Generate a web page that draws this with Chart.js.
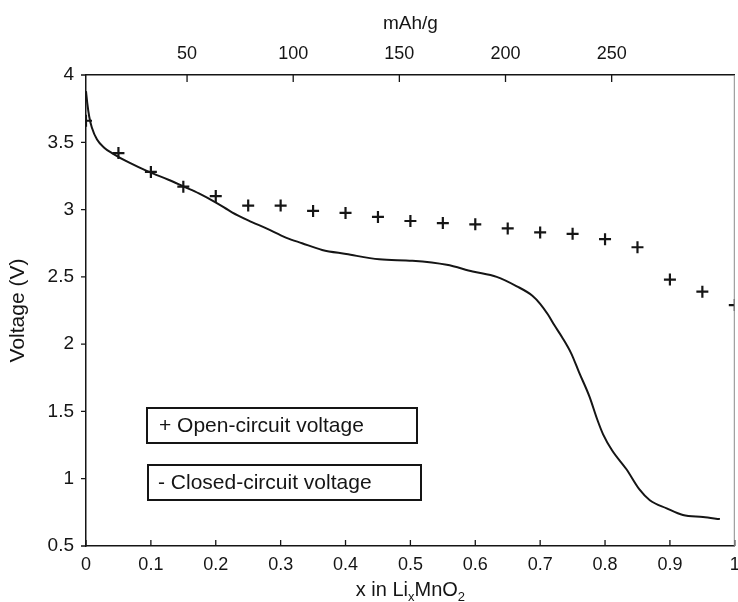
<!DOCTYPE html>
<html>
<head>
<title>LixMnO2 discharge</title>
<script src="https://cdn.jsdelivr.net/npm/chart.js"></script>
<style>
  html, body { margin: 0; padding: 0; background: #fff; overflow: hidden; }
  /* a little wider than the window so the plot frame reaches x = 735 */
  #wrap { width: 743px; height: 602px; }
</style>
</head>
<body>
<div id="wrap"><canvas id="discharge"></canvas></div>
<script>
// closed-circuit discharge curve: x in LixMnO2 vs volts
const ccvX = [0.000, 0.002, 0.005, 0.009, 0.017, 0.028, 0.040, 0.066, 0.097, 0.128,
              0.151, 0.174, 0.201, 0.225, 0.250, 0.278, 0.309, 0.333, 0.364, 0.401,
              0.452, 0.503, 0.556, 0.596, 0.633, 0.664, 0.688, 0.700, 0.712, 0.722,
              0.734, 0.748, 0.760, 0.776, 0.788, 0.797, 0.811, 0.833, 0.853, 0.869,
              0.895, 0.920, 0.951, 0.977];
const ccvV = [3.88, 3.79, 3.69, 3.61, 3.52, 3.46, 3.42, 3.35, 3.28, 3.22,
              3.17, 3.12, 3.05, 2.98, 2.92, 2.86, 2.79, 2.75, 2.70, 2.67,
              2.63, 2.62, 2.59, 2.54, 2.50, 2.43, 2.36, 2.30, 2.22, 2.14,
              2.05, 1.93, 1.79, 1.61, 1.44, 1.33, 1.21, 1.07, 0.92, 0.84,
              0.78, 0.73, 0.715, 0.70];

// open-circuit voltage points
const ocvX = [0, 0.05, 0.1, 0.15, 0.2, 0.25, 0.3, 0.35, 0.4, 0.45, 0.5,
              0.55, 0.6, 0.65, 0.7, 0.75, 0.8, 0.85, 0.9, 0.95, 1.0];
const ocvV = [3.66, 3.42, 3.28, 3.17, 3.10, 3.03, 3.03, 2.99, 2.975, 2.945, 2.915,
              2.90, 2.89, 2.86, 2.83, 2.82, 2.78, 2.72, 2.48, 2.39, 2.29];

const xTicks = [0, 0.1, 0.2, 0.3, 0.4, 0.5, 0.6, 0.7, 0.8, 0.9, 1];
const yTicks = [0.5, 1, 1.5, 2, 2.5, 3, 3.5, 4];
const capTicks = [50, 100, 150, 200, 250];
const capRange = [2.4, 308];   // mAh/g at x = 0 and x = 1
const legendLabels = ['+ Open-circuit voltage', '- Closed-circuit voltage'];

const ink = '#151515';
const fontName = '"Liberation Sans", Arial, sans-serif';
const lastX = xTicks[xTicks.length - 1];

function pts(xs, ys) {
    return xs.map((x, i) => ({ x: x, y: ys[i] }));
}

const decorations = {
    id: 'decorations',
    afterDraw(chart) {
        const ctx = chart.ctx;
        const a = chart.chartArea;
        const sx = chart.scales.x, sy = chart.scales.y, st = chart.scales.x2;
        ctx.save();
        ctx.strokeStyle = ink;
        ctx.lineWidth = 1.3;
        ctx.beginPath();
        xTicks.forEach(v => {
            const p = sx.getPixelForValue(v);
            ctx.moveTo(p, a.bottom); ctx.lineTo(p, a.bottom - 6);
        });
        capTicks.forEach(v => {
            const p = st.getPixelForValue(v);
            ctx.moveTo(p, a.top); ctx.lineTo(p, a.top + 7);
        });
        yTicks.forEach(v => {
            const p = sy.getPixelForValue(v);
            ctx.moveTo(a.left - 5, p); ctx.lineTo(a.left, p);
        });
        ctx.stroke();

        // faint right frame
        ctx.strokeStyle = '#8a8a8a';
        ctx.lineWidth = 1;
        ctx.beginPath();
        ctx.moveTo(a.right - 0.5, a.top); ctx.lineTo(a.right - 0.5, a.bottom);
        ctx.stroke();

        // the last x label runs off the edge, so it is drawn here
        ctx.fillStyle = ink;
        ctx.font = '18px ' + fontName;
        ctx.textAlign = 'center';
        ctx.textBaseline = 'middle';
        ctx.fillText(String(lastX), sx.getPixelForValue(lastX), a.bottom + 8 + 10.8);

        // legend boxes
        ctx.strokeStyle = ink;
        ctx.lineWidth = 2;
        ctx.strokeRect(a.left + 61, 408, 270, 35);
        ctx.strokeRect(a.left + 62, 465, 273, 35);
        ctx.font = '21px ' + fontName;
        ctx.textAlign = 'left';
        ctx.fillText(legendLabels[0], a.left + 73, 426);
        ctx.fillText(legendLabels[1], a.left + 72, 483);

        // x axis title with subscripts
        const big = '20px ' + fontName, small = '13px ' + fontName;
        const parts = [['x in Li', big, 0], ['x', small, 5], ['MnO', big, 0], ['2', small, 5]];
        ctx.textBaseline = 'alphabetic';
        let w = 0;
        parts.forEach(p => { ctx.font = p[1]; w += ctx.measureText(p[0]).width; });
        let x = (a.left + a.right) / 2 - w / 2;
        parts.forEach(p => {
            ctx.font = p[1];
            ctx.fillText(p[0], x, 596 + p[2]);
            x += ctx.measureText(p[0]).width;
        });
        ctx.restore();
    }
};

const tickFont = { family: fontName, size: 18 };

new Chart(document.getElementById('discharge'), {
    type: 'scatter',
    data: {
        datasets: [
            {
                label: 'Open-circuit voltage',
                data: pts(ocvX, ocvV),
                pointStyle: 'cross',
                pointRadius: 6,
                pointBorderWidth: 2.2,
                borderColor: ink,
                clip: 0,
                order: 1
            },
            {
                label: 'Closed-circuit voltage',
                data: pts(ccvX, ccvV),
                showLine: true,
                pointRadius: 0,
                borderColor: ink,
                borderWidth: 2,
                cubicInterpolationMode: 'monotone',
                clip: 0,
                order: 2
            }
        ]
    },
    options: {
        responsive: true,
        maintainAspectRatio: false,
        animation: false,
        layout: { padding: { right: 3 } },
        plugins: {
            legend: { display: false },
            tooltip: { enabled: false }
        },
        scales: {
            x: {
                type: 'linear',
                position: 'bottom',
                min: 0,
                max: 1,
                afterBuildTicks: s => { s.ticks = xTicks.map(v => ({ value: v })); },
                afterFit: s => { s.height = 56; },
                ticks: { font: tickFont, color: ink, padding: 8, callback: v => v === lastX ? '' : String(v) },
                grid: { display: false, drawTicks: false },
                border: { display: true, color: ink, width: 1.5 }
            },
            x2: {
                type: 'linear',
                position: 'top',
                min: capRange[0],
                max: capRange[1],
                afterBuildTicks: s => { s.ticks = capTicks.map(v => ({ value: v })); },
                afterFit: s => { s.height = 75; },
                ticks: { font: tickFont, color: ink, padding: 10, callback: v => String(v) },
                grid: { display: false, drawTicks: false },
                border: { display: true, color: ink, width: 1.5 },
                title: {
                    display: true,
                    text: 'mAh/g',
                    color: ink,
                    font: { family: fontName, size: 19 },
                    padding: { top: 12, bottom: 0 }
                }
            },
            y: {
                type: 'linear',
                min: 0.5,
                max: 4,
                afterBuildTicks: s => { s.ticks = yTicks.map(v => ({ value: v })); },
                afterFit: s => { s.width = 86; },
                ticks: { font: { family: fontName, size: 19 }, color: ink, padding: 12, callback: v => String(v) },
                grid: { display: false, drawTicks: false },
                border: { display: true, color: ink, width: 1.5 },
                title: {
                    display: true,
                    text: 'Voltage (V)',
                    color: ink,
                    font: { family: fontName, size: 21 },
                    padding: { top: 6, bottom: 0 }
                }
            }
        }
    },
    plugins: [decorations]
});
</script>
</body>
</html>
